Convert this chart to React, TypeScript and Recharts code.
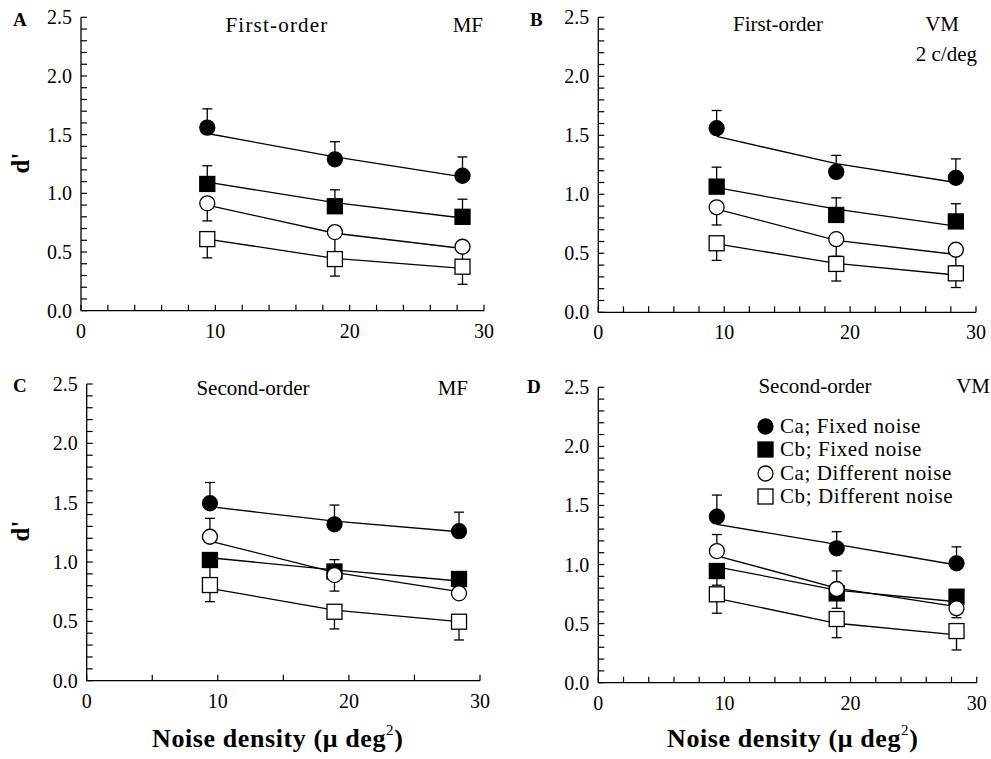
import React from 'react';
import { ComposedChart, Line, XAxis, YAxis, ErrorBar, Legend } from 'recharts';

// noise densities where the conditions were measured
const noiseDensity = [9.4, 18.9, 28.4];

const yTicks = [0, 0.1, 0.2, 0.3, 0.4, 0.5, 0.6, 0.7, 0.8, 0.9, 1.0, 1.1, 1.2, 1.3, 1.4, 1.5, 1.6, 1.7, 1.8, 1.9, 2.0, 2.1, 2.2, 2.3, 2.4, 2.5];
const xTicksFine = [0, 2, 4, 6, 8, 10, 12, 14, 16, 18, 20, 22, 24, 26, 28, 30];
const xTicksCoarse = [0, 5, 10, 15, 20, 25, 30];

const seriesNames = ['Ca; Fixed noise', 'Cb; Fixed noise', 'Ca; Different noise', 'Cb; Different noise'];

// rows: Ca fixed, Cb fixed, Ca different, Cb different
const panelAValues = [[1.56, 1.29, 1.15], [1.08, 0.89, 0.8], [0.915, 0.67, 0.545], [0.61, 0.44, 0.375]];
const panelAUpper = [[0.16, 0.15, 0.16], [0.155, 0.14, 0.15], [0, 0, 0], [0, 0, 0]];
const panelALower = [[0, 0, 0], [0, 0, 0], [0.15, 0.17, 0.115], [0.16, 0.145, 0.15]];
const panelAFit = [[1.51, 1.31, 1.14], [1.095, 0.92, 0.79], [0.9, 0.66, 0.53], [0.61, 0.445, 0.36]];

const panelBValues = [[1.56, 1.19, 1.14], [1.065, 0.825, 0.77], [0.89, 0.62, 0.53], [0.585, 0.41, 0.33]];
const panelBUpper = [[0.15, 0.14, 0.16], [0.165, 0.145, 0.15], [0, 0, 0], [0, 0, 0]];
const panelBLower = [[0, 0, 0], [0, 0, 0], [0.15, 0.145, 0.135], [0.145, 0.145, 0.12]];
const panelBFit = [[1.49, 1.26, 1.1], [1.056, 0.875, 0.73], [0.875, 0.61, 0.49], [0.58, 0.415, 0.316]];

const panelCValues = [[1.495, 1.318, 1.26], [1.017, 0.92, 0.857], [1.213, 0.89, 0.736], [0.806, 0.581, 0.497]];
const panelCUpper = [[0.175, 0.162, 0.16], [0, 0.1, 0], [0.155, 0, 0], [0, 0, 0]];
const panelCLower = [[0, 0, 0], [0.17, 0, 0], [0, 0.135, 0], [0.14, 0.145, 0.154]];
const panelCFit = [[1.466, 1.345, 1.255], [1.036, 0.933, 0.84], [1.177, 0.913, 0.75], [0.778, 0.595, 0.497]];

const panelDValues = [[1.405, 1.137, 1.01], [0.945, 0.756, 0.728], [1.114, 0.793, 0.63], [0.748, 0.539, 0.437]];
const panelDUpper = [[0.183, 0.141, 0.14], [0, 0.19, 0], [0.14, 0, 0], [0, 0, 0]];
const panelDLower = [[0, 0, 0], [0.12, 0, 0], [0, 0.163, 0.08], [0.16, 0.158, 0.16]];
const panelDFit = [[1.34, 1.17, 0.996], [0.981, 0.784, 0.685], [1.074, 0.8, 0.643], [0.714, 0.503, 0.404]];

const FONT = 'Liberation Serif, serif';
const SQUARE = [false, true, false, true];
const FILLED = [true, true, false, false];
// markers drawn in this order so open circles sit on top
const MARKER_ORDER = [0, 1, 3, 2];

function MarkerShape({ cx, cy, i }: { cx: number; cy: number; i: number }) {
  const fill = FILLED[i] ? '#000' : '#fff';
  if (SQUARE[i]) {
    return <rect x={cx - 7.5} y={cy - 7.5} width={15} height={15} fill={fill} stroke="#000" strokeWidth={1.3} />;
  }
  return <circle cx={cx} cy={cy} r={7.5} fill={fill} stroke="#000" strokeWidth={1.3} />;
}

function buildRows(values: number[][], upper: number[][], lower: number[][], fit: number[][]) {
  return values.map((row, i) =>
    noiseDensity.map((x, j) => ({
      x,
      v: row[j],
      err: [lower[i][j], upper[i][j]],
      fit: fit[i][j],
    }))
  );
}

function LegendBox() {
  return (
    <div style={{ fontFamily: FONT, fontSize: 21, letterSpacing: 0.6, color: '#000' }}>
      {seriesNames.map((name, i) => (
        <div key={name} style={{ display: 'flex', alignItems: 'center', height: 23.3, whiteSpace: 'nowrap' }}>
          <svg width={17} height={17} style={{ flex: 'none' }}>
            <MarkerShape cx={8.5} cy={8.5} i={i} />
          </svg>
          <span style={{ marginLeft: 6, lineHeight: '23px' }}>{name}</span>
        </div>
      ))}
    </div>
  );
}

interface PanelProps {
  left: number;
  top: number;
  width: number;
  height: number;
  margin: { top: number; right: number; bottom: number; left: number };
  xTicks: number[];
  values: number[][];
  upper: number[][];
  lower: number[][];
  fit: number[][];
  legend?: boolean;
}

function TickText({ x, y, textAnchor, dy, label }: any) {
  if (!label) return <g />;
  return (
    <text x={x} y={y} dy={dy} textAnchor={textAnchor} fontFamily={FONT} fontSize={20} fill="#000">
      {label}
    </text>
  );
}

function Panel({ left, top, width, height, margin, xTicks, values, upper, lower, fit, legend }: PanelProps) {
  const rows = buildRows(values, upper, lower, fit);
  const axisLine = { stroke: '#000', strokeWidth: 1.3 };
  const tickLine = { stroke: '#000', strokeWidth: 1.2 };
  return (
    <div style={{ position: 'absolute', left, top, fontFamily: FONT }}>
      <ComposedChart width={width} height={height} margin={margin} style={{ fontFamily: FONT }}>
        <XAxis
          type="number"
          dataKey="x"
          domain={[0, 30]}
          ticks={xTicks}
          interval={0}
          allowDataOverflow
          height={30}
          tickSize={-6}
          tickMargin={19}
          axisLine={axisLine}
          tickLine={tickLine}
          tick={(p: any) => (
            <TickText
              key={`xt-${p.index}`}
              x={p.x}
              y={p.y}
              dy={14}
              textAnchor="middle"
              label={p.payload.value % 10 === 0 ? String(p.payload.value) : ''}
            />
          )}
        />
        <YAxis
          type="number"
          domain={[0, 2.5]}
          ticks={yTicks}
          interval={0}
          allowDataOverflow
          width={50}
          tickSize={-6}
          tickMargin={15}
          axisLine={axisLine}
          tickLine={tickLine}
          tick={(p: any) => (
            <TickText
              key={`yt-${p.index}`}
              x={p.x}
              y={p.y}
              dy={7}
              textAnchor="end"
              label={Math.round(p.payload.value * 10) % 5 === 0 ? p.payload.value.toFixed(1) : ''}
            />
          )}
        />
        {rows.map((r, i) => (
          <Line
            key={`fit-${i}`}
            data={r}
            dataKey="fit"
            stroke="#000"
            strokeWidth={1.3}
            dot={false}
            activeDot={false}
            legendType="none"
            isAnimationActive={false}
          />
        ))}
        {rows.map((r, i) => (
          <Line
            key={`err-${i}`}
            data={r}
            dataKey="v"
            stroke="none"
            dot={false}
            activeDot={false}
            legendType="none"
            isAnimationActive={false}
          >
            <ErrorBar dataKey="err" direction="y" width={5} stroke="#000" strokeWidth={1.3} isAnimationActive={false} />
          </Line>
        ))}
        {MARKER_ORDER.map((i) => (
          <Line
            key={`mk-${i}`}
            data={rows[i]}
            dataKey="v"
            name={seriesNames[i]}
            stroke="none"
            activeDot={false}
            isAnimationActive={false}
            dot={(p: any) => <MarkerShape key={`d-${i}-${p.index}`} cx={p.cx} cy={p.cy} i={i} />}
          />
        ))}
        {legend && (
          <Legend
            layout="vertical"
            align="center"
            verticalAlign="middle"
            wrapperStyle={{ left: 262, top: 50, width: 'auto', height: 'auto' }}
            content={() => <LegendBox />}
          />
        )}
      </ComposedChart>
    </div>
  );
}

export default function App() {
  const txt = { fontFamily: FONT, fontSize: 21, fill: '#000' };
  const letter = { fontFamily: FONT, fontSize: 19, fontWeight: 700, fill: '#000' };
  const axisTitle = { fontFamily: FONT, fontSize: 26, fontWeight: 700, fill: '#000', letterSpacing: 0.6 };
  const dprime = { fontFamily: FONT, fontSize: 25, fontWeight: 700, fill: '#000' };
  return (
    <div style={{ position: 'absolute', left: 0, top: 0, width: 991, height: 759, background: '#fff', overflow: 'hidden' }}>
      <Panel
        left={0}
        top={0}
        width={495}
        height={365}
        margin={{ top: 17.3, right: 11, bottom: 24.3, left: 31 }}
        xTicks={xTicksFine}
        values={panelAValues}
        upper={panelAUpper}
        lower={panelALower}
        fit={panelAFit}
      />
      <Panel
        left={495}
        top={0}
        width={496}
        height={365}
        margin={{ top: 17.3, right: 15, bottom: 22.7, left: 53.3 }}
        xTicks={xTicksFine}
        values={panelBValues}
        upper={panelBUpper}
        lower={panelBLower}
        fit={panelBFit}
      />
      <Panel
        left={0}
        top={365}
        width={495}
        height={394}
        margin={{ top: 19, right: 15, bottom: 48.3, left: 36.7 }}
        xTicks={xTicksCoarse}
        values={panelCValues}
        upper={panelCUpper}
        lower={panelCLower}
        fit={panelCFit}
      />
      <Panel
        left={495}
        top={365}
        width={496}
        height={394}
        margin={{ top: 22.3, right: 14.3, bottom: 46.3, left: 53.3 }}
        xTicks={xTicksFine}
        values={panelDValues}
        upper={panelDUpper}
        lower={panelDLower}
        fit={panelDFit}
        legend
      />
      <svg width={991} height={759} style={{ position: 'absolute', left: 0, top: 0, pointerEvents: 'none' }}>
        <text x={13} y={26} {...letter}>A</text>
        <text x={530} y={26} {...letter}>B</text>
        <text x={13} y={392} {...letter}>C</text>
        <text x={527} y={393} {...letter}>D</text>

        <text x={277} y={32} textAnchor="middle" letterSpacing={1.2} {...txt}>First-order</text>
        <text x={483} y={32} textAnchor="end" {...txt}>MF</text>
        <text x={778} y={31} textAnchor="middle" {...txt}>First-order</text>
        <text x={959} y={31} textAnchor="end" {...txt}>VM</text>
        <text x={977} y={61} textAnchor="end" {...txt}>2 c/deg</text>
        <text x={253} y={395} textAnchor="middle" {...txt}>Second-order</text>
        <text x={468} y={395} textAnchor="end" {...txt}>MF</text>
        <text x={815} y={393} textAnchor="middle" {...txt}>Second-order</text>
        <text x={990} y={393} textAnchor="end" {...txt}>VM</text>

        <text x={20} y={163} transform="rotate(-90, 20, 163)" textAnchor="middle" dominantBaseline="central" {...dprime}>d'</text>
        <text x={20} y={531} transform="rotate(-90, 20, 531)" textAnchor="middle" dominantBaseline="central" {...dprime}>d'</text>

        <text x={152} y={747} {...axisTitle}>
          Noise density (μ deg<tspan dy={-12} fontSize={15} fontWeight={400}>2</tspan><tspan dy={12}>)</tspan>
        </text>
        <text x={667} y={747} {...axisTitle}>
          Noise density (μ deg<tspan dy={-12} fontSize={15} fontWeight={400}>2</tspan><tspan dy={12}>)</tspan>
        </text>
      </svg>
    </div>
  );
}
